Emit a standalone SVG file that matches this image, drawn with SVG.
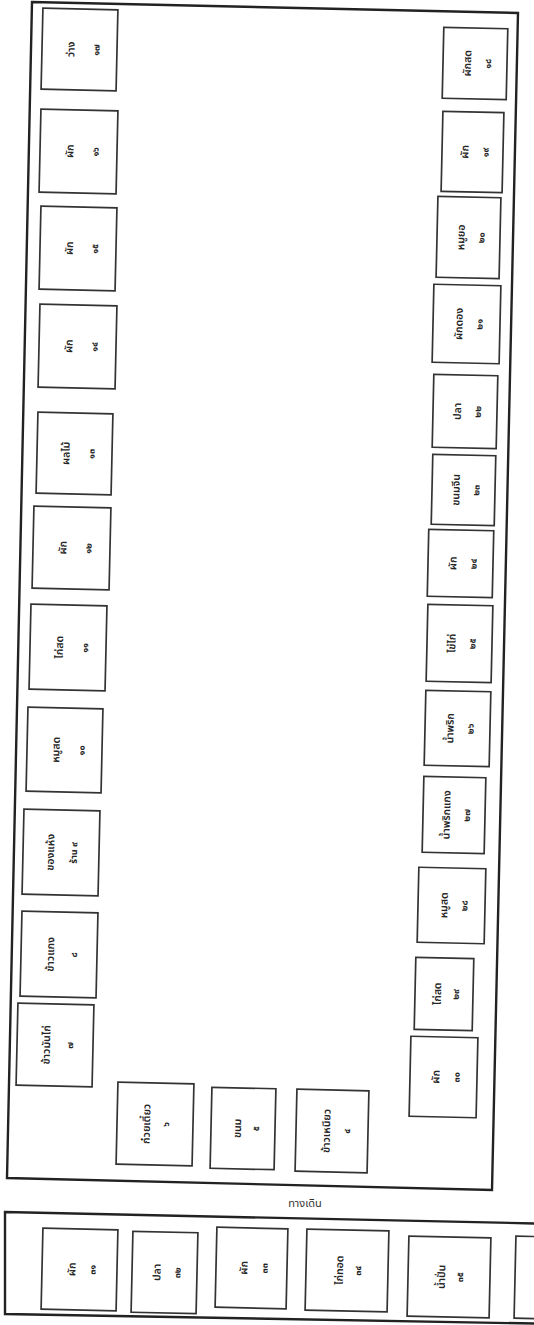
<svg xmlns="http://www.w3.org/2000/svg" width="534" height="1325" viewBox="0 0 534 1325">
<style>
.b{fill:#fff;stroke:#333;stroke-width:1.7}
.w{font-family:'Noto Sans Thai','Noto Sans','DejaVu Sans',sans-serif;font-size:10.5px;font-weight:600;fill:#262626;text-anchor:middle}
.n{font-family:'Noto Sans Thai','Noto Sans','DejaVu Sans',sans-serif;font-size:9px;font-weight:bold;fill:#222;text-anchor:middle}
.frame{fill:none;stroke:#222;stroke-width:2.4}
.lbl{font-family:'Noto Sans Thai','Noto Sans','DejaVu Sans',sans-serif;font-size:11px;fill:#333;text-anchor:middle}
</style>
<rect x="0" y="0" width="534" height="1325" fill="#fff"/>
<g id="frames">
<polygon class="frame" points="32,2 518,13 492,1190 7,1178"/>
<polygon class="frame" points="5,1212 560,1224 560,1324 5,1314"/>
<text class="lbl" x="305" y="1207">ทางเดิน</text>
</g>
<g id="L1" transform="translate(79.5,49.5) rotate(1.3)"><rect class="b" x="-37.5" y="-40.5" width="75" height="81"/><text class="w" transform="rotate(-90)" y="-5">ว่าง</text><text class="n" transform="rotate(-90)" y="20">๑๗</text></g>
<g id="L2" transform="translate(78.5,151.5) rotate(1.3)"><rect class="b" x="-38.5" y="-41.5" width="77" height="83"/><text class="w" transform="rotate(-90)" y="-5">ผัก</text><text class="n" transform="rotate(-90)" y="20">๑๖</text></g>
<g id="L3" transform="translate(78,248.5) rotate(1.3)"><rect class="b" x="-38" y="-41.5" width="76" height="83"/><text class="w" transform="rotate(-90)" y="-5">ผัก</text><text class="n" transform="rotate(-90)" y="20">๑๕</text></g>
<g id="L4" transform="translate(77.5,346.5) rotate(1.3)"><rect class="b" x="-38.5" y="-41.5" width="77" height="83"/><text class="w" transform="rotate(-90)" y="-5">ผัก</text><text class="n" transform="rotate(-90)" y="20">๑๔</text></g>
<g id="L5" transform="translate(74.5,453.5) rotate(1.3)"><rect class="b" x="-37.5" y="-40.5" width="75" height="81"/><text class="w" transform="rotate(-90)" y="-5">ผลไม้</text><text class="n" transform="rotate(-90)" y="20">๑๓</text></g>
<g id="L6" transform="translate(71.5,548) rotate(1.3)"><rect class="b" x="-38.5" y="-41" width="77" height="82"/><text class="w" transform="rotate(-90)" y="-5">ผัก</text><text class="n" transform="rotate(-90)" y="20">๑๒</text></g>
<g id="L7" transform="translate(68,647.5) rotate(1.3)"><rect class="b" x="-38" y="-42.5" width="76" height="85"/><text class="w" transform="rotate(-90)" y="-5">ไก่สด</text><text class="n" transform="rotate(-90)" y="20">๑๑</text></g>
<g id="L8" transform="translate(64.5,750) rotate(1.3)"><rect class="b" x="-37.5" y="-42" width="75" height="84"/><text class="w" transform="rotate(-90)" y="-5">หมูสด</text><text class="n" transform="rotate(-90)" y="20">๑๐</text></g>
<g id="L9" transform="translate(61,852.5) rotate(1.3)"><rect class="b" x="-38" y="-42.5" width="76" height="85"/><text class="w" transform="rotate(-90)" y="-7">ของแห้ง</text><text class="n" transform="rotate(-90)" y="16">ร้าน ๙</text></g>
<g id="L10" transform="translate(59,954.5) rotate(1.3)"><rect class="b" x="-38" y="-42.5" width="76" height="85"/><text class="w" transform="rotate(-90)" y="-5">ข้าวแกง</text><text class="n" transform="rotate(-90)" y="18">๘</text></g>
<g id="L11" transform="translate(55,1045) rotate(1.3)"><rect class="b" x="-38" y="-41" width="76" height="82"/><text class="w" transform="rotate(-90)" y="-5">ข้าวมันไก่</text><text class="n" transform="rotate(-90)" y="18">๗</text></g>
<g id="B1" transform="translate(155,1124) rotate(1.3)"><rect class="b" x="-38" y="-41" width="76" height="82"/><text class="w" transform="rotate(-90)" y="-5">ก๋วยเตี๋ยว</text><text class="n" transform="rotate(-90)" y="14">๖</text></g>
<g id="B2" transform="translate(243,1128.5) rotate(1.3)"><rect class="b" x="-32" y="-40.5" width="64" height="81"/><text class="w" transform="rotate(-90)" y="-2">ขนม</text><text class="n" transform="rotate(-90)" y="16">๕</text></g>
<g id="B3" transform="translate(332,1131) rotate(1.3)"><rect class="b" x="-36" y="-41" width="72" height="82"/><text class="w" transform="rotate(-90)" y="-2">ข้าวเหนียว</text><text class="n" transform="rotate(-90)" y="18">๔</text></g>
<g id="R1" transform="translate(475,63.5) rotate(1.3)"><rect class="b" x="-32" y="-35.5" width="64" height="71"/><text class="w" transform="rotate(-90)" y="-4">ผักสด</text><text class="n" transform="rotate(-90)" y="16">๑๘</text></g>
<g id="R2" transform="translate(472.5,152) rotate(1.3)"><rect class="b" x="-30.5" y="-40" width="61" height="80"/><text class="w" transform="rotate(-90)" y="-4">ผัก</text><text class="n" transform="rotate(-90)" y="16">๑๙</text></g>
<g id="R3" transform="translate(468.5,237.5) rotate(1.3)"><rect class="b" x="-31.5" y="-40.5" width="63" height="81"/><text class="w" transform="rotate(-90)" y="-4">หมูยอ</text><text class="n" transform="rotate(-90)" y="16">๒๐</text></g>
<g id="R4" transform="translate(466.5,324) rotate(1.3)"><rect class="b" x="-33.5" y="-39" width="67" height="78"/><text class="w" transform="rotate(-90)" y="-4">ผักดอง</text><text class="n" transform="rotate(-90)" y="16">๒๑</text></g>
<g id="R5" transform="translate(465,411.5) rotate(1.3)"><rect class="b" x="-32" y="-36.5" width="64" height="73"/><text class="w" transform="rotate(-90)" y="-4">ปลา</text><text class="n" transform="rotate(-90)" y="16">๒๒</text></g>
<g id="R6" transform="translate(463.5,490) rotate(1.3)"><rect class="b" x="-31.5" y="-35" width="63" height="70"/><text class="w" transform="rotate(-90)" y="-4">ขนมจีน</text><text class="n" transform="rotate(-90)" y="16">๒๓</text></g>
<g id="R7" transform="translate(460.5,563.5) rotate(1.3)"><rect class="b" x="-32.5" y="-33.5" width="65" height="67"/><text class="w" transform="rotate(-90)" y="-4">ผัก</text><text class="n" transform="rotate(-90)" y="16">๒๔</text></g>
<g id="R8" transform="translate(459.5,643.5) rotate(1.3)"><rect class="b" x="-32.5" y="-38.5" width="65" height="77"/><text class="w" transform="rotate(-90)" y="-4">ไข่ไก่</text><text class="n" transform="rotate(-90)" y="16">๒๕</text></g>
<g id="R9" transform="translate(457.5,728.5) rotate(1.3)"><rect class="b" x="-32.5" y="-37.5" width="65" height="75"/><text class="w" transform="rotate(-90)" y="-4">น้ำพริก</text><text class="n" transform="rotate(-90)" y="16">๒๖</text></g>
<g id="R10" transform="translate(454,815) rotate(1.3)"><rect class="b" x="-31" y="-38" width="62" height="76"/><text class="w" transform="rotate(-90)" y="-4">น้ำพริกแกง</text><text class="n" transform="rotate(-90)" y="16">๒๗</text></g>
<g id="R11" transform="translate(451.5,905.5) rotate(1.3)"><rect class="b" x="-33.5" y="-37.5" width="67" height="75"/><text class="w" transform="rotate(-90)" y="-4">หมูสด</text><text class="n" transform="rotate(-90)" y="16">๒๘</text></g>
<g id="R12" transform="translate(444,994) rotate(1.3)"><rect class="b" x="-29" y="-36" width="58" height="72"/><text class="w" transform="rotate(-90)" y="-3">ไก่สด</text><text class="n" transform="rotate(-90)" y="15">๒๙</text></g>
<g id="R13" transform="translate(443.5,1077) rotate(1.3)"><rect class="b" x="-33.5" y="-40" width="67" height="80"/><text class="w" transform="rotate(-90)" y="-4">ผัก</text><text class="n" transform="rotate(-90)" y="16">๓๐</text></g>
<g id="S1" transform="translate(79.5,1269.5) rotate(1.3)"><rect class="b" x="-37.5" y="-40.5" width="75" height="81"/><text class="w" transform="rotate(-90)" y="-4">ผัก</text><text class="n" transform="rotate(-90)" y="16">๓๑</text></g>
<g id="S2" transform="translate(164.5,1272.5) rotate(1.3)"><rect class="b" x="-32.5" y="-40.5" width="65" height="81"/><text class="w" transform="rotate(-90)" y="-4">ปลา</text><text class="n" transform="rotate(-90)" y="16">๓๒</text></g>
<g id="S3" transform="translate(251.5,1268) rotate(1.3)"><rect class="b" x="-35.5" y="-40" width="71" height="80"/><text class="w" transform="rotate(-90)" y="-4">ผัก</text><text class="n" transform="rotate(-90)" y="16">๓๓</text></g>
<g id="S4" transform="translate(347,1270.5) rotate(1.3)"><rect class="b" x="-41" y="-40.5" width="82" height="81"/><text class="w" transform="rotate(-90)" y="-4">ไก่ทอด</text><text class="n" transform="rotate(-90)" y="14">๓๔</text></g>
<g id="S5" transform="translate(449,1277) rotate(1.3)"><rect class="b" x="-41" y="-40" width="82" height="80"/><text class="w" transform="rotate(-90)" y="-4">น้ำปั่น</text><text class="n" transform="rotate(-90)" y="14">๓๕</text></g>
<g id="S6" transform="translate(555,1278) rotate(1.3)"><rect class="b" x="-40" y="-41" width="80" height="82"/></g>
<g id="connectors"></g>
</svg>
